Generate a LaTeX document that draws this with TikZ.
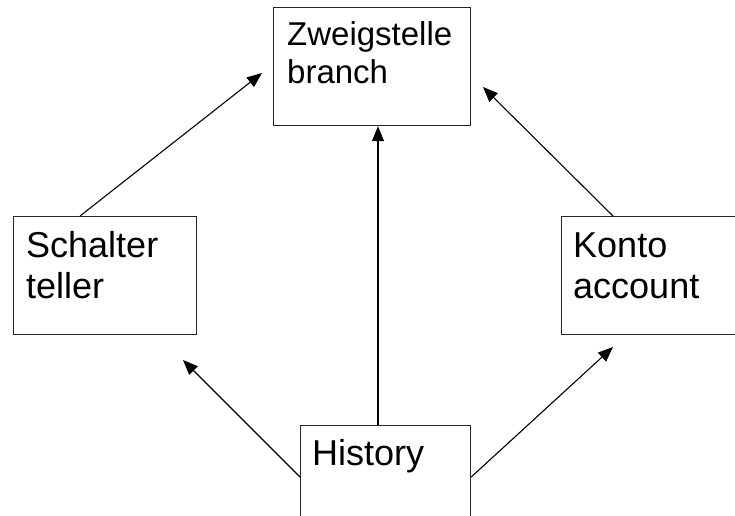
\documentclass[tikz,border=0pt]{standalone}
\usepackage{fontspec}
\setmainfont{Liberation Sans}
\usetikzlibrary{arrows.meta}
\begin{document}
\begin{tikzpicture}[x=1pt,y=-1pt,
  box/.style={draw=black!85,line width=1.2pt,rectangle,inner sep=0pt,anchor=north west},
  lbl/.style={anchor=base west,align=left,inner sep=0pt,font=\fontsize{36}{41}\selectfont},
  lblsmall/.style={lbl,font=\fontsize{33}{38}\selectfont},
  arr/.style={line width=1.1pt,-{Triangle[length=15pt,width=12pt]}}]
\useasboundingbox (0,0) rectangle (735,515);
\clip (0,0) rectangle (735,515);
% boxes
\node[box,minimum width=197pt,minimum height=118pt] (zw) at (273,7) {};
\node[box,minimum width=183pt,minimum height=118pt] (sc) at (13,216) {};
\node[box,minimum width=200pt,minimum height=118pt] (ko) at (561,216) {};
\node[box,minimum width=170pt,minimum height=120pt] (hi) at (300,425) {};
% labels (anchor = baseline of last line)
\node[lblsmall] (zwt) at (287,83) {Zweigstelle\\branch};
\node[lbl] (sct) at (26,298) {Schalter\\teller};
\node[lbl] (kot) at (573,298) {Konto\\account};
\node[lbl] (hit) at (312,465) {History};
% arrow tips
\coordinate (t1) at (262,73);
\coordinate (t2) at (483,87);
\coordinate (t4) at (183,360);
\coordinate (t5) at (613,347);
% connectors
\draw[arr] ([xshift=67pt]sc.north west) -- (t1);
\draw[arr] ([xshift=52pt]ko.north west) -- (t2);
\draw[arr] (hi.north west -| 378,0) -- (zw.south west -| 378,0);
\draw[arr] ([yshift=-52pt]hi.north west) -- (t4);
\draw[arr] ([yshift=-52pt]hi.north east) -- (t5);
\end{tikzpicture}
\end{document}
